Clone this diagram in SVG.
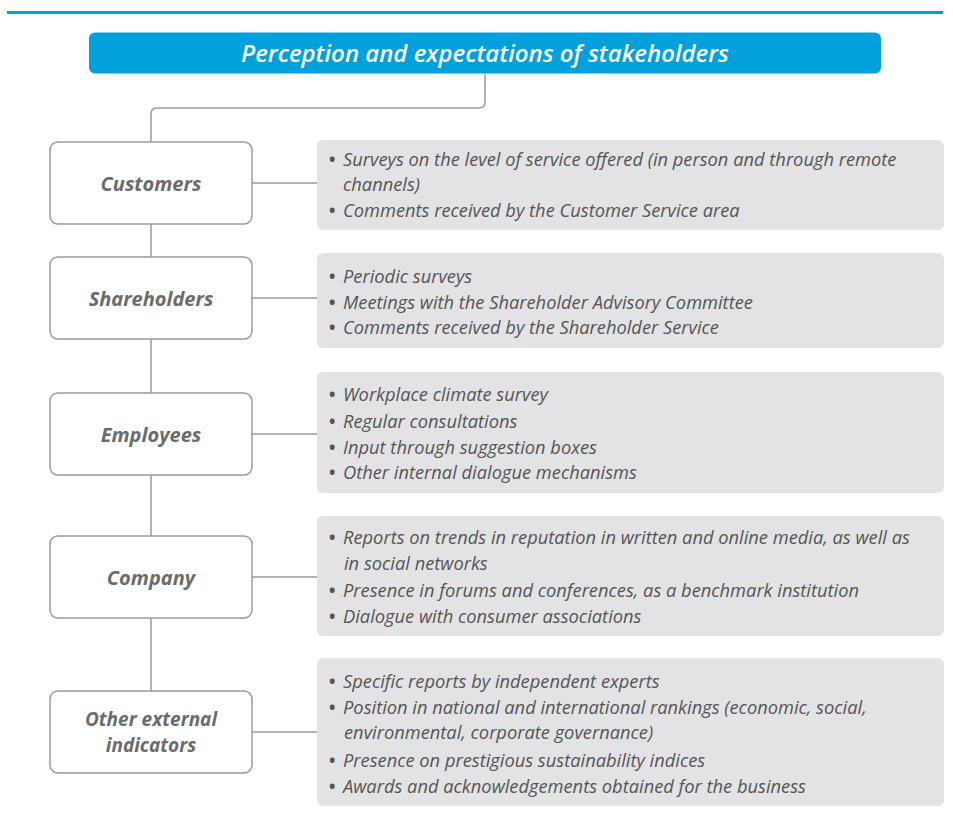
<svg xmlns="http://www.w3.org/2000/svg" width="953" height="827" viewBox="0 0 953 827">
<style>
.node rect{fill:#fff;stroke:#9a9a9a;stroke-width:1.5}
.node text{font-family:"Open Sans","Liberation Sans",sans-serif;font-style:italic;font-weight:700;font-size:20px;fill:#6b6b6b;text-anchor:middle}
.node text.two{font-size:19px}
.info rect{fill:#e3e3e5}
.info text{font-family:"Open Sans","Liberation Sans",sans-serif;font-style:italic;font-size:18.3px;fill:#555}
.info .b{font-size:17px;font-style:normal;font-weight:700}
.conn path{fill:none;stroke:#9a9a9a;stroke-width:1.5}
.title text{font-family:"Open Sans","Liberation Sans",sans-serif;font-style:italic;font-weight:600;font-size:24px;fill:#fff;text-anchor:middle}
</style>
<rect x="7" y="11" width="936" height="3" fill="#00a0dc"/>
<g id="title" class="title">
<rect x="89" y="32.5" width="792" height="41" rx="6" fill="#00a0dc"/>
<text x="485" y="62">Perception and expectations of stakeholders</text>
</g>
<g id="connectors" class="conn">
<path d="M485 74 V102 Q485 108 479 108 H157 Q151 108 151 114 V142"/>
<path d="M151 224 V257"/>
<path d="M151 339 V393"/>
<path d="M151 475 V536"/>
<path d="M151 618 V691"/>
<path d="M252 183 H317"/>
<path d="M252 298 H317"/>
<path d="M252 434 H317"/>
<path d="M252 577 H317"/>
<path d="M252 732 H317"/>
</g>
<g id="customers" class="node">
<rect x="50" y="142" width="202" height="82" rx="8"/>
<text x="151" y="191">Customers</text>
</g>
<g id="shareholders" class="node">
<rect x="50" y="257" width="202" height="82" rx="8"/>
<text x="151" y="306">Shareholders</text>
</g>
<g id="employees" class="node">
<rect x="50" y="393" width="202" height="82" rx="8"/>
<text x="151" y="442">Employees</text>
</g>
<g id="company" class="node">
<rect x="50" y="536" width="202" height="82" rx="8"/>
<text x="151" y="585">Company</text>
</g>
<g id="other" class="node">
<rect x="50" y="691" width="202" height="82" rx="8"/>
<text class="two" x="151" y="726">Other external</text>
<text class="two" x="151" y="752">indicators</text>
</g>
<g id="customers-info" class="info">
<rect x="317" y="140" width="627" height="90" rx="6"/>
<text y="166"><tspan class="b" x="329">•</tspan><tspan x="343">Surveys on the level of service offered (in person and through remote</tspan></text>
<text x="343" y="191">channels)</text>
<text y="217"><tspan class="b" x="329">•</tspan><tspan x="343">Comments received by the Customer Service area</tspan></text>
</g>
<g id="shareholders-info" class="info">
<rect x="317" y="253" width="627" height="95" rx="6"/>
<text y="283"><tspan class="b" x="329">•</tspan><tspan x="343">Periodic surveys</tspan></text>
<text y="309"><tspan class="b" x="329">•</tspan><tspan x="343">Meetings with the Shareholder Advisory Committee</tspan></text>
<text y="334"><tspan class="b" x="329">•</tspan><tspan x="343">Comments received by the Shareholder Service</tspan></text>
</g>
<g id="employees-info" class="info">
<rect x="317" y="372" width="627" height="121" rx="6"/>
<text y="401"><tspan class="b" x="329">•</tspan><tspan x="343">Workplace climate survey</tspan></text>
<text y="428"><tspan class="b" x="329">•</tspan><tspan x="343">Regular consultations</tspan></text>
<text y="454"><tspan class="b" x="329">•</tspan><tspan x="343">Input through suggestion boxes</tspan></text>
<text y="479"><tspan class="b" x="329">•</tspan><tspan x="343">Other internal dialogue mechanisms</tspan></text>
</g>
<g id="company-info" class="info">
<rect x="317" y="516" width="627" height="120" rx="6"/>
<text y="544"><tspan class="b" x="329">•</tspan><tspan x="343">Reports on trends in reputation in written and online media, as well as</tspan></text>
<text x="344" y="570">in social networks</text>
<text y="597"><tspan class="b" x="329">•</tspan><tspan x="343">Presence in forums and conferences, as a benchmark institution</tspan></text>
<text y="623"><tspan class="b" x="329">•</tspan><tspan x="343">Dialogue with consumer associations</tspan></text>
</g>
<g id="other-info" class="info">
<rect x="317" y="658" width="627" height="148" rx="6"/>
<text y="688"><tspan class="b" x="329">•</tspan><tspan x="343">Specific reports by independent experts</tspan></text>
<text y="714"><tspan class="b" x="329">•</tspan><tspan x="343">Position in national and international rankings (economic, social,</tspan></text>
<text x="344" y="739">environmental, corporate governance)</text>
<text y="767"><tspan class="b" x="329">•</tspan><tspan x="343">Presence on prestigious sustainability indices</tspan></text>
<text y="793"><tspan class="b" x="329">•</tspan><tspan x="343">Awards and acknowledgements obtained for the business</tspan></text>
</g>
</svg>
